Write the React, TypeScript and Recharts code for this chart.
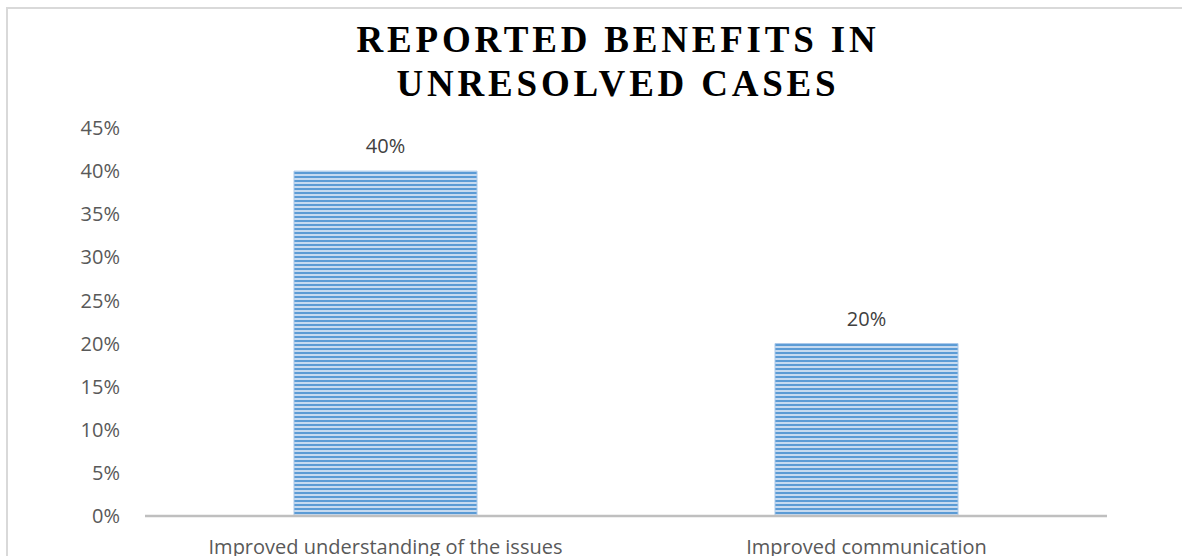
import { Bar, BarChart, LabelList, XAxis, YAxis } from "recharts";

const categories = ["Improved understanding of the issues", "Improved communication"];
const shares = [0.4, 0.2];
const yTicks = [0, 0.05, 0.1, 0.15, 0.2, 0.25, 0.3, 0.35, 0.4, 0.45];
const titleLines = ["REPORTED BENEFITS IN", "UNRESOLVED CASES"];

const data = categories.map((name, i) => ({ name, value: shares[i] }));

const pct = (v: number) => `${Math.round(v * 100)}%`;
const sans = "'Open Sans', 'Noto Sans', sans-serif";

export default function App() {
  return (
    <div style={{ position: "absolute", left: 0, top: 0, width: 1182, height: 556, background: "#fff", overflow: "hidden" }}>
      <div
        style={{
          position: "absolute",
          left: 6,
          top: 7,
          width: 1176,
          height: 549,
          borderTop: "2px solid #d9d9d9",
          borderLeft: "2px solid #d9d9d9",
          boxSizing: "border-box",
        }}
      />
      <div
        style={{
          position: "absolute",
          left: 318,
          top: 18,
          width: 600,
          textAlign: "center",
          fontFamily: "'Liberation Serif', 'Times New Roman', serif",
          fontWeight: 700,
          fontSize: 37,
          lineHeight: "44px",
          letterSpacing: 3.8,
          color: "#000",
        }}
      >
        {titleLines.map((t) => (
          <div key={t}>{t}</div>
        ))}
      </div>
      <BarChart
        width={1182}
        height={556}
        data={data}
        margin={{ top: 128, right: 75, bottom: 0, left: 0 }}
        style={{ position: "absolute", left: 0, top: 0 }}
      >
        <defs>
          <pattern id="hstripes" width="4" height="4" patternUnits="userSpaceOnUse">
            <rect x="0" y="0" width="4" height="4" fill="#c6daf0" />
            <rect x="0" y="0" width="4" height="2" fill="#5b9bd5" />
          </pattern>
        </defs>
        <XAxis
          dataKey="name"
          height={40}
          tickLine={false}
          tickSize={0}
          tickMargin={24}
          axisLine={{ stroke: "#bfbfbf", strokeWidth: 2.5 }}
          tick={{ fill: "#595959", fontSize: 20, fontFamily: sans }}
          interval={0}
        />
        <YAxis
          width={145}
          domain={[0, 0.45]}
          ticks={yTicks}
          tickFormatter={pct}
          axisLine={false}
          tickLine={false}
          tickSize={0}
          tickMargin={25}
          tick={{ fill: "#595959", fontSize: 20, fontFamily: sans }}
        />
        <Bar dataKey="value" barSize={183} fill="url(#hstripes)" stroke="#a8c8ea" strokeWidth={1} isAnimationActive={false}>
          <LabelList
            dataKey="value"
            position="top"
            offset={18}
            formatter={(v: any) => pct(Number(v))}
            style={{ fill: "#404040", fontSize: 20, fontFamily: sans }}
          />
        </Bar>
      </BarChart>
    </div>
  );
}
